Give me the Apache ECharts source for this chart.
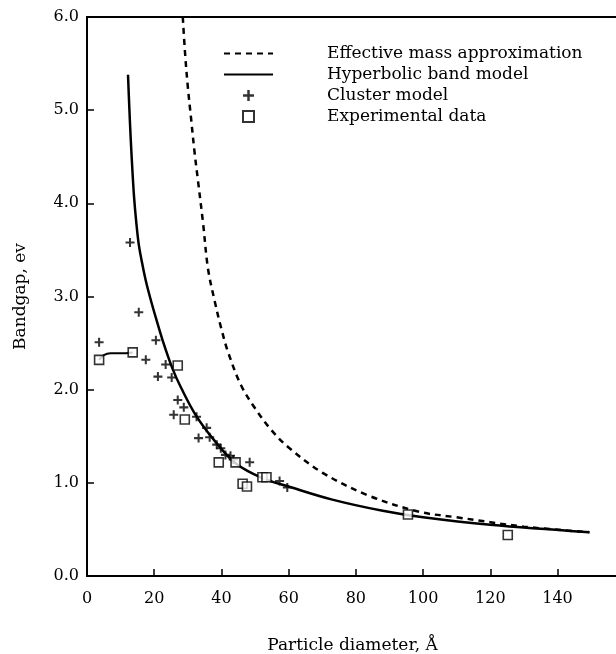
<!DOCTYPE html>
<html>
<head>
<meta charset="utf-8">
<script src="https://cdn.jsdelivr.net/npm/echarts@6/dist/echarts.min.js"></script>
<style>
  html, body { margin: 0; padding: 0; background: #fff; }
  #chart { width: 616px; height: 654px; }
</style>
</head>
<body>
<div id="chart"></div>
<script>
const chart = echarts.init(document.getElementById('chart'));

// particle diameter (angstrom), bandgap (eV)
const effMassX = [28.5, 29.2, 30, 31, 32, 33, 34.5, 36, 38, 40, 42, 45.8, 50, 55, 60, 70, 84, 98.8, 110, 130, 149.5];
const effMassY = [6.0, 5.6, 5.25, 4.9, 4.55, 4.25, 3.8, 3.3, 2.95, 2.65, 2.4, 2.05, 1.8, 1.56, 1.38, 1.11, 0.86, 0.69, 0.63, 0.53, 0.47];

const hyperX = [12.2, 12.6, 13.0, 13.5, 14.0, 14.6, 15.4, 16.4, 17.5, 19, 20.5, 22.5, 25.5, 28, 32.3, 38, 44.2, 52.2, 60, 73, 88, 100, 120, 149.5];
const hyperY = [5.38, 5.02, 4.70, 4.36, 4.07, 3.82, 3.56, 3.36, 3.17, 2.96, 2.77, 2.53, 2.22, 2.02, 1.73, 1.45, 1.21, 1.05, 0.96, 0.82, 0.70, 0.63, 0.55, 0.47];

// short connecting segment between the first two experimental points
const linkX = [3.6, 5, 7, 10, 13.6];
const linkY = [2.32, 2.37, 2.39, 2.39, 2.40];

const clusterX = [3.6, 12.8, 15.4, 17.5, 20.5, 21.1, 23.4, 25.2, 25.8, 27.0, 28.8, 32.6, 33.2, 35.6, 36.5, 38.6, 39.8, 41.2, 42.7, 43.5, 48.4, 57.3, 59.6];
const clusterY = [2.51, 3.58, 2.83, 2.32, 2.53, 2.14, 2.27, 2.13, 1.73, 1.89, 1.81, 1.71, 1.48, 1.59, 1.49, 1.41, 1.37, 1.30, 1.29, 1.25, 1.22, 1.02, 0.95];

const expX = [3.6, 13.6, 27.0, 29.1, 39.2, 44.2, 46.3, 47.6, 52.2, 53.4, 95.5, 125.2];
const expY = [2.32, 2.40, 2.26, 1.68, 1.22, 1.22, 0.99, 0.96, 1.06, 1.06, 0.66, 0.44];

const xTicks = [0, 20, 40, 60, 80, 100, 120, 140];

function pairs(xs, ys) {
  return xs.map((x, i) => [x, ys[i]]);
}

const font = 'DejaVu Serif';
const plusPath = 'path://M-0.9,-4H0.9V-0.9H4V0.9H0.9V4H-0.9V0.9H-4V-0.9H-0.9Z';
const squarePath = 'path://M0,0H10V10H0Z';
const hideSymbol = { color: 'rgba(0,0,0,0)', borderWidth: 0, opacity: 0 };

const option = {
  backgroundColor: '#fff',
  animation: false,
  textStyle: { fontFamily: font, color: '#000' },
  grid: {
    left: 87, top: 17, bottom: 78, right: -2,
    outerBoundsMode: 'none',
    show: true, borderColor: '#000', borderWidth: 2,
    backgroundColor: 'transparent'
  },
  legend: {
    orient: 'vertical',
    left: 218, top: 40,
    itemWidth: 49, itemHeight: 11, itemGap: 4,
    textStyle: { fontFamily: font, fontSize: 17, color: '#000', padding: [0, 0, 0, 49] },
    data: [
      { name: 'Effective mass approximation', itemStyle: hideSymbol },
      { name: 'Hyperbolic band model', itemStyle: hideSymbol },
      { name: 'Cluster model', icon: plusPath },
      { name: 'Experimental data', icon: squarePath }
    ]
  },
  xAxis: {
    type: 'value',
    min: 0, max: 158, interval: 20,
    name: 'Particle diameter, Å',
    nameLocation: 'middle', nameGap: 61,
    nameTextStyle: { fontFamily: font, fontSize: 17, color: '#000' },
    axisLine: { show: true, lineStyle: { color: '#000', width: 2 } },
    axisTick: { show: true, inside: true, length: 7, lineStyle: { color: '#000', width: 1.5 } },
    axisLabel: {
      margin: 15, fontFamily: font, fontSize: 16, color: '#000',
      formatter: v => xTicks.includes(v) ? String(v) : ''
    },
    splitLine: { show: false }
  },
  yAxis: {
    type: 'value',
    min: 0, max: 6, interval: 1,
    name: 'Bandgap, ev',
    nameLocation: 'middle', nameGap: 58,
    nameTextStyle: { fontFamily: font, fontSize: 17, color: '#000' },
    axisLine: { show: true, lineStyle: { color: '#000', width: 2 } },
    axisTick: { show: true, inside: true, length: 7, lineStyle: { color: '#000', width: 1.5 } },
    axisLabel: {
      margin: 8, fontFamily: font, fontSize: 16, color: '#000',
      formatter: v => v.toFixed(1)
    },
    splitLine: { show: false }
  },
  series: [
    {
      name: 'Effective mass approximation',
      type: 'line', smooth: 0.35, symbol: 'none',
      data: pairs(effMassX, effMassY),
      lineStyle: { color: '#000', width: 2.5, type: [6, 5] },
      itemStyle: { color: '#000' }
    },
    {
      name: 'Hyperbolic band model',
      type: 'line', smooth: 0.35, symbol: 'none',
      data: pairs(hyperX, hyperY),
      lineStyle: { color: '#000', width: 2.5 },
      itemStyle: { color: '#000' }
    },
    {
      name: 'link',
      type: 'line', smooth: 0.4, symbol: 'none',
      data: pairs(linkX, linkY),
      lineStyle: { color: '#000', width: 2 }
    },
    {
      name: 'Cluster model',
      type: 'scatter', symbol: plusPath, symbolSize: 9,
      data: pairs(clusterX, clusterY),
      itemStyle: { color: '#000' }
    },
    {
      name: 'Experimental data',
      type: 'scatter', symbol: 'rect', symbolSize: 9,
      data: pairs(expX, expY),
      itemStyle: { color: '#fff', borderColor: '#000', borderWidth: 1.6 },
      z: 3
    }
  ]
};

chart.setOption(option);
window.addEventListener('resize', () => chart.resize());
</script>
</body>
</html>
